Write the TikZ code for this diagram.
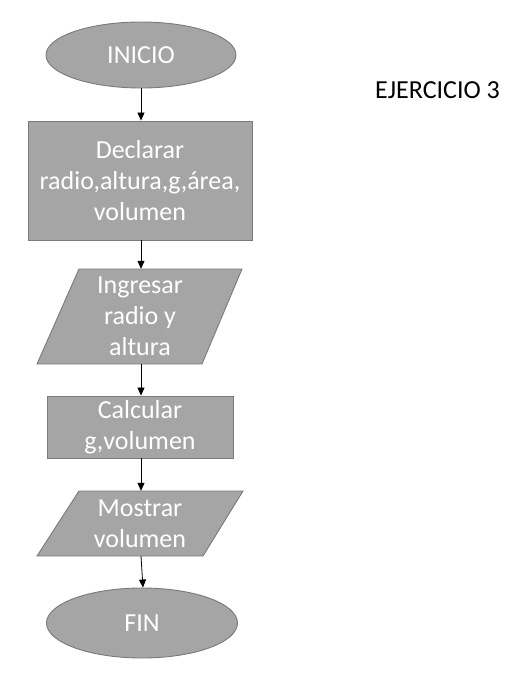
\documentclass[tikz,border=0pt]{standalone}
\usepackage{fontspec}
\setmainfont{Carlito}
\usetikzlibrary{shapes.geometric,arrows.meta}
\definecolor{boxfill}{HTML}{A5A5A5}
\definecolor{boxline}{HTML}{7A7A7A}
\tikzset{
  shapebase/.style={fill=boxfill, draw=boxline, line width=0.9pt},
  term/.style={shapebase, ellipse, inner sep=0pt, text=white, font=\fontsize{26}{31}\selectfont},
  procbox/.style={shapebase, rectangle, inner sep=0pt, text=white, align=center, font=\fontsize{26}{31}\selectfont},
  iotext/.style={inner sep=0pt, text=white, align=center, font=\fontsize{26}{31}\selectfont},
  flow/.style={draw=black, line width=0.8pt, -{Triangle[length=8pt,width=7pt]}},
}
\begin{document}
\begin{tikzpicture}[x=1pt,y=-1pt]
\useasboundingbox (0,0) rectangle (526,700);
\node[term, minimum width=190pt, minimum height=66pt] (inicio) at (141,55) {INICIO};
\node[procbox, minimum width=224pt, minimum height=119pt] (decl) at (140,180.5) {Declarar\\radio,altura,g,área,\\volumen};
\draw[shapebase] (79,269) -- (242,269) -- (202,364) -- (37,364) -- cycle;
\node[iotext, minimum height=95pt] (ingr) at (140,316.5) {Ingresar\\radio y\\altura};
\node[procbox, minimum width=186pt, minimum height=62pt] (calc) at (140,427) {Calcular\\g,volumen};
\draw[shapebase] (79,491) -- (243,491) -- (203,556) -- (37,556) -- cycle;
\node[iotext, minimum height=65pt] (most) at (140,523.5) {Mostrar\\volumen};
\node[term, minimum width=191pt, minimum height=70pt] (fin) at (142,623) {FIN};
\node[anchor=base, font=\fontsize{26}{31}\selectfont, inner sep=0pt] (titulo) at (437.5,99) {EJERCICIO 3};
\draw[flow] (inicio.south -| 141,0) -- (decl.north -| 141,0);
\draw[flow] (decl.south -| 141,0) -- (ingr.north -| 141,0);
\draw[flow] (ingr.south -| 141,0) -- (calc.north -| 141,0);
\draw[flow] (calc.south -| 141,0) -- (most.north -| 141,0);
\draw[flow] (most.south -| 141,0) -- (fin.north -| 143,0);
\end{tikzpicture}
\end{document}
